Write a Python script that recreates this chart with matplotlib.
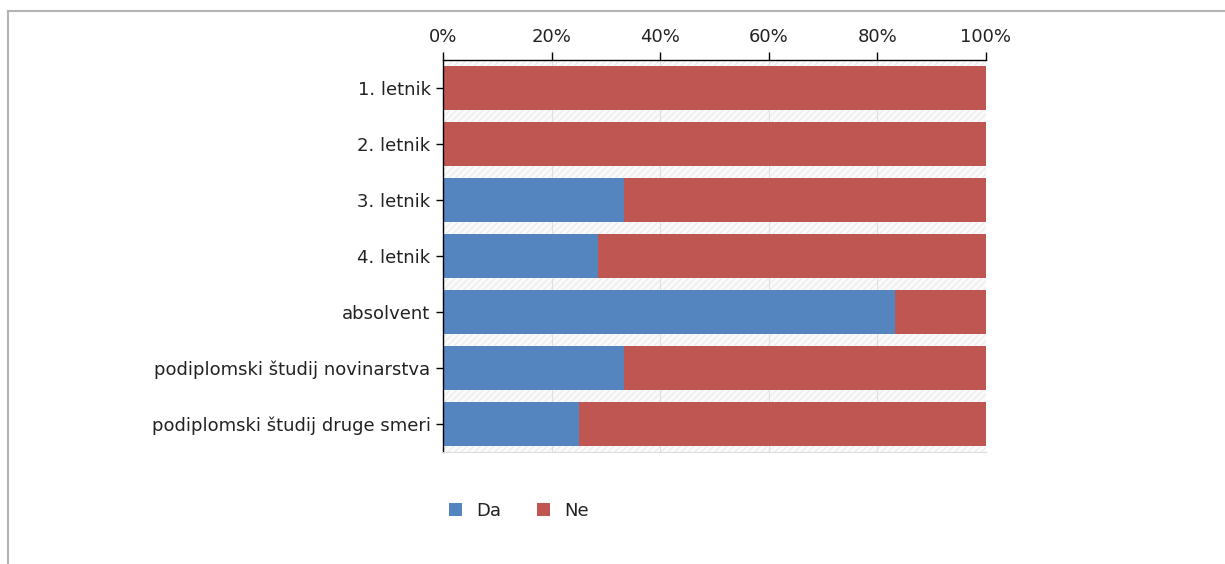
import numpy as np
import matplotlib.pyplot as plt
from matplotlib.patches import Rectangle

categories = ['1. letnik', '2. letnik', '3. letnik', '4. letnik', 'absolvent',
              'podiplomski študij novinarstva', 'podiplomski študij druge smeri']
da = [0.0, 0.0, 33.3, 28.6, 83.3, 33.3, 25.0]
ne = [100.0, 100.0, 66.7, 71.4, 16.7, 66.7, 75.0]
xticks = [0, 20, 40, 60, 80, 100]

plt.rcParams['font.family'] = ['DejaVu Sans']
plt.rcParams['hatch.linewidth'] = 0.6
fs = 13

fig = plt.figure(figsize=(12.25, 5.64), dpi=100)
ax = fig.add_axes([443 / 1225, 1 - 452 / 564, 543 / 1225, 392 / 564])

# outer frame of the chart
fig.add_artist(plt.Line2D([8 / 1225, 8 / 1225], [0, 1 - 11 / 564], transform=fig.transFigure,
                          color='#b4b4b4', lw=1.5))
fig.add_artist(plt.Line2D([8 / 1225, 1], [1 - 11 / 564, 1 - 11 / 564], transform=fig.transFigure,
                          color='#b4b4b4', lw=1.5))

# hatched background
ax.add_patch(Rectangle((0, 0), 1, 1, transform=ax.transAxes, facecolor='#fafafa',
                       edgecolor='#e6e6e6', hatch='/////', lw=0, zorder=0))

y = np.arange(len(categories))
h = 0.78
ax.barh(y, da, height=h, color='#5585bf', label='Da', zorder=2)
ax.barh(y, ne, left=da, height=h, color='#c05652', label='Ne', zorder=2)

ax.set_xlim(0, 100)
ax.set_ylim(len(categories) - 0.5, -0.5)
ax.set_yticks(y)
ax.set_yticklabels(categories, fontsize=fs, color='#222222')
ax.set_xticks(xticks)
ax.set_xticklabels([f'{t}%' for t in xticks], fontsize=fs, color='#222222')
ax.xaxis.tick_top()
ax.tick_params(axis='x', direction='out', length=6, width=1, pad=4)
ax.tick_params(axis='y', direction='out', length=5, width=1, pad=4)
ax.grid(axis='x', color='#e0e0e0', lw=0.8, zorder=1)
ax.set_axisbelow(True)

ax.spines['right'].set_visible(False)
ax.spines['bottom'].set_color('#dddddd')
ax.spines['bottom'].set_linestyle((0, (3, 1)))
ax.spines['top'].set_linewidth(1)
ax.spines['left'].set_linewidth(1)

ax.legend(loc='center', bbox_to_anchor=(519 / 1225, 1 - 511 / 564), bbox_transform=fig.transFigure,
          ncol=2, frameon=False, fontsize=fs, handlelength=0.7, handleheight=0.7,
          columnspacing=2.0, handletextpad=0.8, labelcolor='#222222')

fig.savefig('out.png', dpi=100)
